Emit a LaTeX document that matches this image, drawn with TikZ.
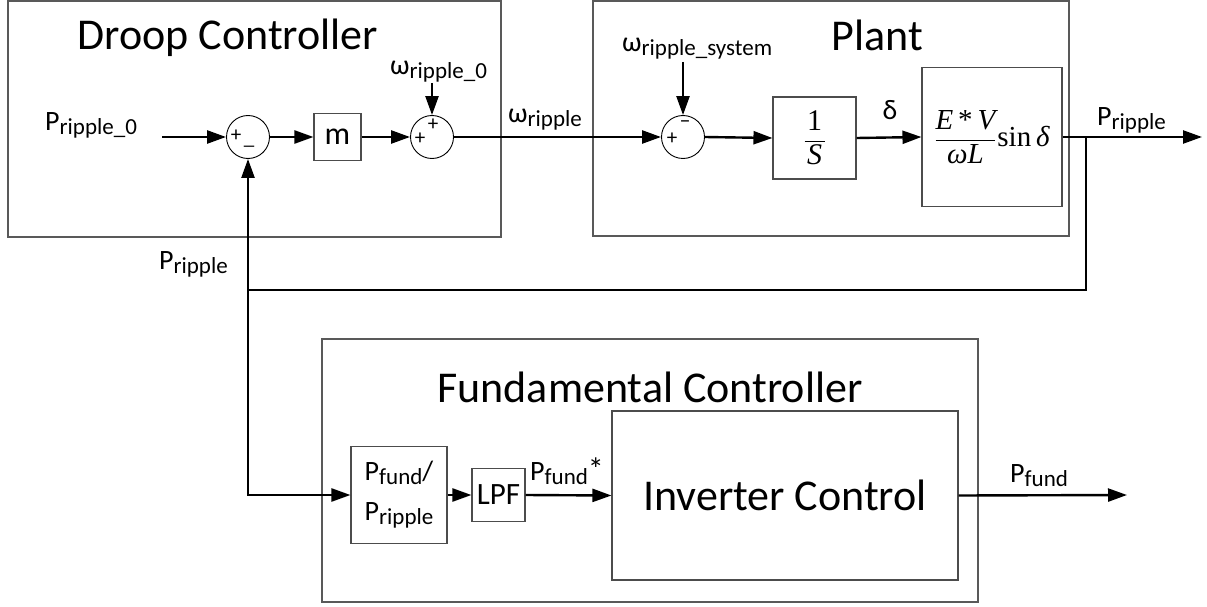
\documentclass[tikz,border=0pt]{standalone}
\usepackage{fontspec}
\setmainfont{Carlito}
\newfontfamily\tnr{Liberation Serif}
\usetikzlibrary{arrows.meta}

% font size helper (1pt = 1px of the output)
\newcommand{\setfs}[1]{\fontsize{#1}{#1}\selectfont}
% lowered subscript in the label font
\newcommand{\lowsub}[1]{\raisebox{-4pt}{\setfs{23}#1}}

\begin{document}
\begin{tikzpicture}[x=1pt,y=-1pt,
  frame/.style={draw=black!65, line width=1.3pt, inner sep=0pt},
  block/.style={draw=black!70, line width=1.1pt, inner sep=0pt},
  sumnode/.style={circle, draw=black, line width=0.9pt, minimum size=43pt, inner sep=0pt},
  conn/.style={line width=2.4pt},
  arr/.style={conn, -{Triangle[length=19pt,width=13pt]}},
  lbl/.style={font=\setfs{28}, inner sep=0pt},
  title/.style={font=\setfs{44}, inner sep=0pt},
  sign/.style={font=\setfs{21}, inner sep=0pt}]
\useasboundingbox (0,0) rectangle (1207,607);

% ---------- enclosing frames ----------
\node[frame, minimum width=493pt, minimum height=236pt] (droop) at (254.5,119) {};
\node[frame, minimum width=476pt, minimum height=235pt] (plant) at (831,118.5) {};
\node[frame, minimum width=656pt, minimum height=263pt] (fund) at (650,470.5) {};

\node[title, anchor=base] (droopT) at (228,50) {Droop Controller};
\node[title, anchor=base] (plantT) at (877.5,51) {Plant};
\node[title, anchor=base] (fundT) at (650,402) {Fundamental Controller};

% ---------- droop controller ----------
\node[sumnode] (s1) at (248,137) {};
\node[block, minimum size=47pt, font=\setfs{32}] (m) at (337.5,137) {m};
\node[sumnode] (s2) at (432,137) {};
\node[sign] (s1p) at (236,136) {+};
\node[sign] (s1m) at (249,146) {\_};
\node[sign] (s2p) at (420,139) {+};
\node[sign] (s2q) at (433,125) {+};

\coordinate (pin) at (162,137);
\coordinate (w0top) at (432,83);
\node[lbl, anchor=base west] (lp0) at (45,131) {P\lowsub{ripple\_0}};
\node[lbl, anchor=base west] (lw0) at (390,75) {ω\lowsub{ripple\_0}};

% ---------- plant ----------
\node[sumnode] (s3) at (683,137) {};
\node[sign] (s3p) at (672,139) {+};
\node[sign, font=\setfs{22}] (s3m) at (685,124) {–};
\node[block, minimum width=83pt, minimum height=82pt, font=\tnr\setfs{30}] (integ) at (814.5,138)
  {$\displaystyle\frac{\hbox to 20pt{\hss 1\hss}}{\hbox{\itshape S}}$};
\node[block, minimum width=140pt, minimum height=139pt, font=\tnr\setfs{29}] (gain) at (992,137)
  {$\displaystyle\frac{\hbox{\itshape E\,\upshape*\,\itshape V}}{\hbox{\itshape ωL}}\hbox{\kern1pt sin\,\itshape δ}$};

\coordinate (wstop) at (683,62);
\node[lbl, anchor=base west] (lws) at (622,52) {ω\lowsub{ripple\_system}};
\node[lbl, anchor=base west] (lw) at (508,123) {ω\lowsub{ripple}};
\node[lbl, anchor=base] (ld) at (890,120) {δ};
\node[lbl, anchor=base west] (lpr) at (1097,125) {P\lowsub{ripple}};

\coordinate (tap) at (1086,137);
\coordinate (pout) at (1202,137);
\coordinate (fbturn) at (248,290);
\coordinate (fbdown) at (248,495);
\node[lbl, anchor=base east] (lpfb) at (228,269) {P\lowsub{ripple}};

% ---------- fundamental controller ----------
\node[block, minimum width=96pt, minimum height=97pt, align=center,
      font=\fontsize{28}{40}\selectfont] (ratio) at (399,495)
  {P\lowsub{fund}/\\P\lowsub{ripple}};
\node[block, minimum size=53pt, font=\setfs{31}] (lpf) at (498.5,495) {LPF};
\node[block, minimum width=346pt, minimum height=169pt, font=\setfs{44}] (inv) at (785,495.5)
  {Inverter Control};
\node[lbl, anchor=base west] (lpf1) at (530,480) {P\lowsub{fund}{\setfs{32}*}};
\node[lbl, anchor=base west] (lpf2) at (1010,482) {P\lowsub{fund}};
\coordinate (fout) at (1127,495);

% ---------- connectors ----------
\draw[arr] (pin) -- (s1.west);
\draw[arr] (s1.east) -- (m.west);
\draw[arr] (m.east) -- (s2.west);
\draw[arr] (w0top) -- (s2.north);
\draw[arr] (s2.east) -- (s3.west);
\draw[arr] (wstop) -- (s3.north);
\draw[arr] (s3.east) -- (integ.west);
\draw[arr] (integ.east) -- (gain.west);
\draw[arr] (gain.east) -- (pout);
\draw[conn] (tap) |- (fbturn);
\draw[arr] (fbturn) -- (s1.south);
\draw[arr] (fbturn) -- (fbdown) -- (ratio.west);
\draw[arr] (ratio.east) -- (lpf.west);
\draw[arr] (lpf.east) -- (inv.west);
\draw[arr] (inv.east) -- (fout);
\end{tikzpicture}
\end{document}
